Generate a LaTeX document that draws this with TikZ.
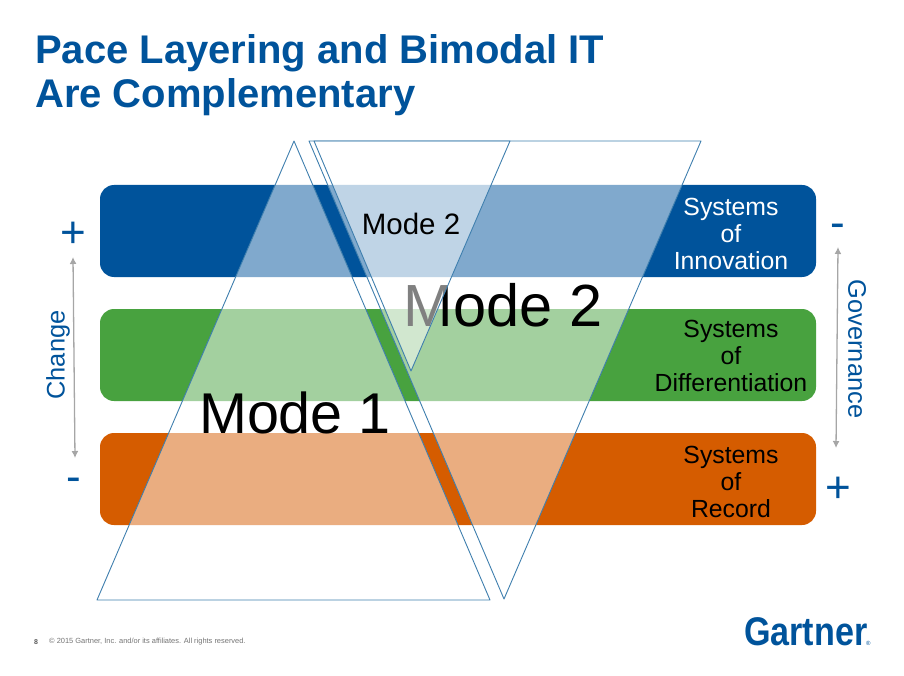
\documentclass[tikz,border=0pt]{standalone}
\usepackage{fontspec}
\setmainfont{Liberation Sans}
\usetikzlibrary{arrows.meta}
\definecolor{garblue}{HTML}{00539B}
\definecolor{gargreen}{HTML}{48A23F}
\definecolor{garorange}{HTML}{D55C00}
\definecolor{triline}{HTML}{3F7FAE}
\newcommand{\sz}[1]{\fontsize{#1}{#1}\selectfont}
\tikzset{
  band/.style={rounded corners=14pt,minimum width=716pt,minimum height=92pt,inner sep=0pt},
  tri/.style={draw=triline,line width=.9pt,line join=round,fill=white,fill opacity=.5},
  rowtext/.style={align=center,inner sep=0pt,font=\sz{24.8}},
  sidetext/.style={inner sep=0pt,text=garblue,font=\sz{25.4}},
  sign/.style={inner sep=0pt,text=garblue,font=\sz{44}},
  gaugearrow/.style={draw=black!35,line width=1.3pt,{Latex[length=7pt,width=7pt]}-{Latex[length=7pt,width=7pt]}},
  modelabel/.style={inner sep=0pt,text=black},
  titleline/.style={anchor=base west,inner sep=0pt,text=garblue,font=\bfseries\sz{40}}
}
\begin{document}
\begin{tikzpicture}[x=1pt,y=-1pt]
\useasboundingbox (0,0) rectangle (904,676);
\node (titleA) [titleline] at (35,64) {Pace Layering and Bimodal IT};
\node (titleB) [titleline] at (35,108) {Are Complementary};
% layers
\node (innovation) [band,fill=garblue] at (458,231) {};
\node (differentiation) [band,fill=gargreen] at (458,355) {};
\node (record) [band,fill=garorange] at (458,479) {};
% triangles
\draw[tri] (294,141) -- (97,600) -- (490,600) -- cycle;
\draw[tri] (309,141) -- (701,141) -- (504,599) -- cycle;
\node (bigtwo) [modelabel,font=\sz{59.5}] at (503,305) {Mode 2};
\draw[tri] (314,141) -- (510,141) -- (411,371) -- cycle;
\node (smalltwo) [modelabel,font=\sz{29.5}] at (411,224) {Mode 2};
\node (one) [modelabel,font=\sz{57.5}] at (295,413) {Mode 1};
% row labels
\node (sysinno) [rowtext,text=white] at (731,234) {Systems\\[2.2pt]of\\[2.2pt]Innovation};
\node (sysdiff) [rowtext,text=black] at (731,356) {Systems\\[2.2pt]of\\[2.2pt]Differentiation};
\node (sysrec) [rowtext,text=black] at (731,482) {Systems\\[2.2pt]of\\[2.2pt]Record};
% change side
\node (changeplus) [sign] at (73,235) {+};
\node (changeminus) [sign] at (74,485) {-};
\coordinate (changetop) at (73,257);
\coordinate (changebot) at (75,458);
\draw[gaugearrow] (changetop) -- (changebot);
\node (change) [sidetext,rotate=90] at (58,355) {Change};
% governance side
\node (govminus) [sign] at (838,231) {-};
\node (govplus) [sign] at (838,490) {+};
\coordinate (govtop) at (838,247);
\coordinate (govbot) at (836,448);
\draw[gaugearrow] (govtop) -- (govbot);
\node (governance) [sidetext,rotate=-90] at (857,349) {Governance};
% footer
\node (pagenum) [anchor=west,inner sep=0pt,text=black!65,font=\bfseries\sz{7}] at (34,642) {8};
\node (copyright) [anchor=west,inner sep=0pt,text=black!55,font=\sz{7.45}] at (49,642) {© 2015 Gartner, Inc. and/or its affiliates. All rights reserved.};
\node (logo) [anchor=base west,inner sep=0pt,text=garblue,font=\bfseries\sz{40},xscale=.853] at (744,645) {Gartner};
\node (logomark) [anchor=base west,inner sep=0pt,text=garblue,font=\sz{6}] at (866,645) {®};
\end{tikzpicture}
\end{document}
